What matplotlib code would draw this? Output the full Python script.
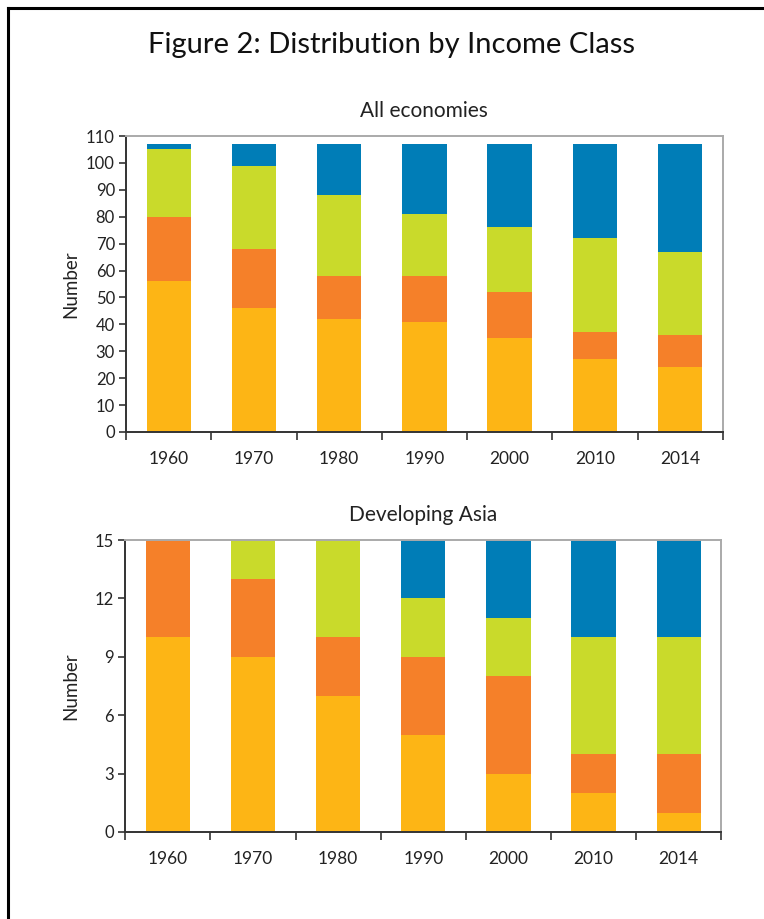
import matplotlib.pyplot as plt
import numpy as np

plt.rcParams['font.family'] = ['Lato', 'DejaVu Sans']

years = ['1960', '1970', '1980', '1990', '2000', '2010', '2014']
colors = ['#FDB515', '#F58029', '#C9DA2B', '#007DB7']

# All economies (stack: yellow, orange, green, blue)
all_low = [56, 46, 42, 41, 35, 27, 24]
all_lowmid = [24, 22, 16, 17, 17, 10, 12]
all_upmid = [25, 31, 30, 23, 24, 35, 31]
all_high = [2, 8, 19, 26, 31, 35, 40]

# Developing Asia
asia_low = [10, 9, 7, 5, 3, 2, 1]
asia_lowmid = [5, 4, 3, 4, 5, 2, 3]
asia_upmid = [0, 2, 5, 3, 3, 6, 6]
asia_high = [0, 0, 0, 3, 4, 5, 5]

fig = plt.figure(figsize=(7.64, 9.19), dpi=100)

# frame lines (left and top)
fig.add_artist(plt.Line2D([0.0105, 0.0105], [0, 0.9915], color='black', lw=2.2))
fig.add_artist(plt.Line2D([0.0105, 1.0], [0.9915, 0.9915], color='black', lw=2.2))

fig.text(0.513, 0.951, 'Figure 2: Distribution by Income Class', ha='center', va='center',
         fontsize=21, color='#111111')


def draw(ax, series, ymax, yticks, title):
    x = np.arange(len(years))
    bottom = np.zeros(len(years))
    for vals, c in zip(series, colors):
        ax.bar(x, vals, width=0.52, bottom=bottom, color=c, edgecolor='none')
        bottom += np.array(vals)
    ax.set_xlim(-0.5, len(years) - 0.5)
    ax.set_ylim(0, ymax)
    ax.set_yticks(yticks)
    ax.set_xticks(x)
    ax.set_xticklabels(years)
    ax.set_xticks(np.arange(-0.5, len(years)), minor=True)
    ax.tick_params(axis='x', which='major', length=0, pad=14, labelsize=12.5, colors='#222222')
    ax.tick_params(axis='x', which='minor', length=6, width=1.2, color='#333333')
    ax.tick_params(axis='y', length=5, width=1.2, color='#333333', labelsize=12,
                   labelcolor='#222222', pad=3)
    for s in ['left', 'bottom']:
        ax.spines[s].set_color('#333333')
        ax.spines[s].set_linewidth(1.4)
    for s in ['top', 'right']:
        ax.spines[s].set_color('#aaaaaa')
        ax.spines[s].set_linewidth(1.4)
    ax.set_ylabel('Number', fontsize=13.5, color='#222222')
    ax.yaxis.set_label_coords(-0.078, 0.5)
    ax.set_title(title, fontsize=15, color='#222222', pad=14)


ax1 = fig.add_axes([0.165, 0.530, 0.781, 0.322])
draw(ax1, [all_low, all_lowmid, all_upmid, all_high], 110, range(0, 111, 10), 'All economies')

ax2 = fig.add_axes([0.164, 0.0947, 0.780, 0.3177])
draw(ax2, [asia_low, asia_lowmid, asia_upmid, asia_high], 15, range(0, 16, 3), 'Developing Asia')

plt.savefig('out.png', dpi=100)
